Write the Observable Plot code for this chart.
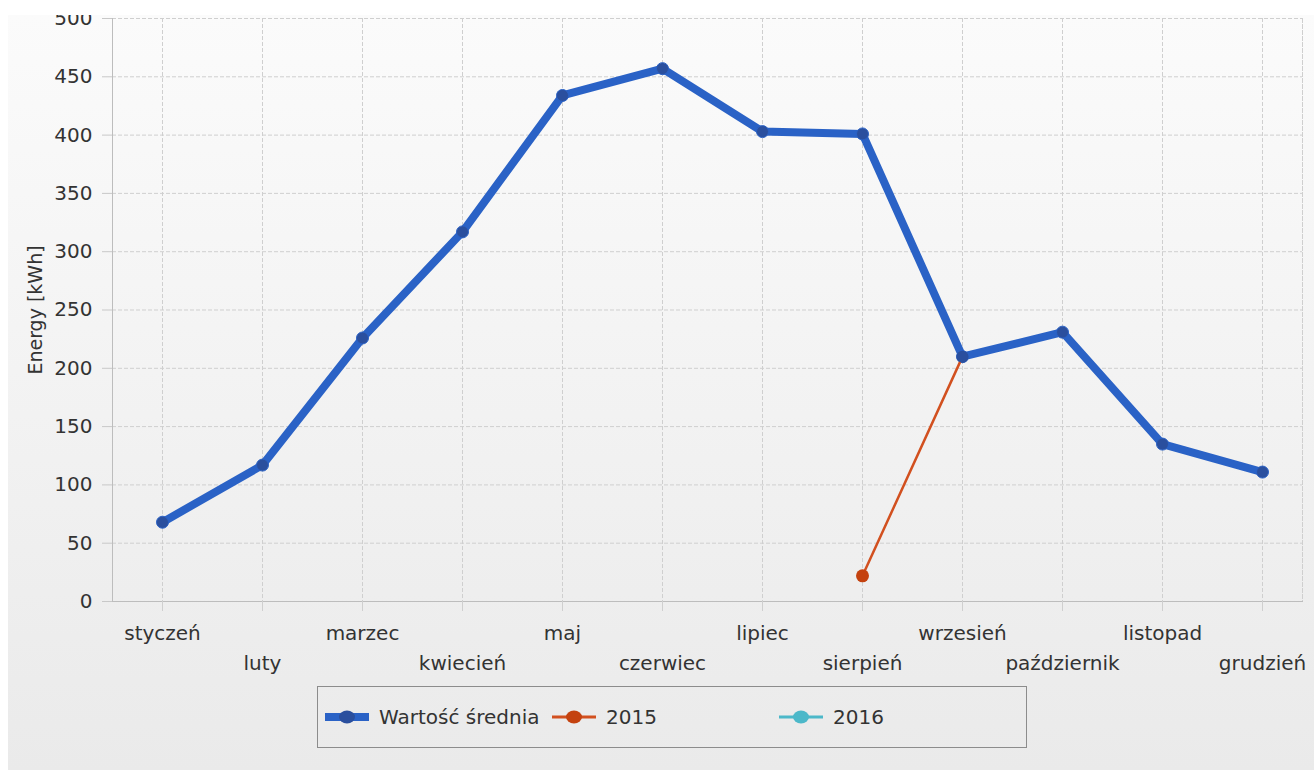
<!DOCTYPE html>
<html><head><meta charset="utf-8">
<script src="https://cdn.jsdelivr.net/npm/d3@7"></script>
<script src="https://cdn.jsdelivr.net/npm/@observablehq/plot@0.6"></script>
<style>
html,body{margin:0;padding:0;background:#fff;overflow:hidden;}
#page{position:relative;width:1314px;height:770px;background:#fff;overflow:hidden;font-family:"DejaVu Sans",sans-serif;}
#inner{position:absolute;left:8px;top:15px;width:1306px;height:755px;overflow:hidden;background:linear-gradient(#fbfbfb,#eaeaea);}
#chart{position:absolute;left:-8px;top:-25px;}
#legend{position:absolute;left:309px;top:671px;width:708px;height:60px;border:1.5px solid #8c8c8c;background:transparent;}
.item{position:absolute;top:0;height:60px;display:flex;align-items:center;font-size:20px;color:#333;}
.item svg{margin-right:9px;}
</style></head>
<body>
<div id="page"><div id="inner"><div id="chart"></div><div id="legend"></div></div></div>
<script>
const months = ["styczeń","luty","marzec","kwiecień","maj","czerwiec","lipiec","sierpień","wrzesień","październik","listopad","grudzień"];
const avgValues = [68,117,226,317,434,457,403,401,210,231,135,111];
const months2015 = ["sierpień","wrzesień"];
const values2015 = [22,210];
const months2016 = [];
const values2016 = [];
const seriesNames = ["Wartość średnia","2015","2016"];
const yTicks = [0,50,100,150,200,250,300,350,400,450,500];
const yLabel = "Energy [kWh]";

const avg = months.map((m,i)=>({month:m, value:avgValues[i]}));
const s2015 = months2015.map((m,i)=>({month:m, value:values2015[i]}));
const s2016 = months2016.map((m,i)=>({month:m, value:values2016[i]}));
const oddMonths = months.filter((m,i)=>i%2===0);
const evenMonths = months.filter((m,i)=>i%2===1);

const blue="#2a62c6", blueDot="#2a4f9e", red="#d2501f", redDot="#c4420f", cyan="#4cb8c9";
const grid="#cfcfcf";

const chart = Plot.plot({
  width:1314, height:681,
  marginLeft:112, marginRight:12, marginTop:28, marginBottom:70,
  style:{fontFamily:"DejaVu Sans, sans-serif", fontSize:"20px", color:"#333", background:"transparent", overflow:"visible"},
  x:{type:"point", domain:months, range:[112,1312], padding:0.5},
  y:{domain:[0,500], range:[611,28]},
  marks:[
    Plot.gridY(yTicks,{stroke:grid, strokeOpacity:1, strokeDasharray:"4,2"}),
    Plot.gridX(months,{stroke:grid, strokeOpacity:1, strokeDasharray:"4,2"}),
    Plot.frame({anchor:"right", stroke:grid, strokeDasharray:"4,2"}),
    Plot.frame({anchor:"left", stroke:"#bdbdbd"}),
    Plot.frame({anchor:"bottom", stroke:"#bdbdbd"}),
    Plot.axisY(yTicks,{tickSize:10, tickPadding:10, stroke:"#c8c8c8", label:null, fill:"#333", fontSize:20}),
    Plot.axisX(months,{tickSize:10, tickFormat:()=>"", stroke:"#cfcfcf", label:null}),
    Plot.text(oddMonths,{x:d=>d, frameAnchor:"bottom", dy:32, lineAnchor:"middle", fill:"#333", fontSize:20}),
    Plot.text(evenMonths,{x:d=>d, frameAnchor:"bottom", dy:62, lineAnchor:"middle", fill:"#333", fontSize:20}),
    Plot.text([yLabel],{frameAnchor:"left", textAnchor:"middle", lineAnchor:"middle", rotate:-90, dx:-77, fill:"#333", fontSize:19}),
    Plot.line(avg,{x:"month", y:"value", stroke:blue, strokeWidth:8, strokeLinejoin:"round", strokeLinecap:"round"}),
    Plot.dot(avg,{x:"month", y:"value", r:6, fill:blueDot, stroke:blue, strokeWidth:1}),
    Plot.line(s2015,{x:"month", y:"value", stroke:red, strokeWidth:2.5}),
    Plot.dot(s2015.slice(0,1),{x:"month", y:"value", r:6.5, fill:redDot}),
    Plot.line(s2016,{x:"month", y:"value", stroke:cyan, strokeWidth:2.5}),
    Plot.dot(avg.slice(8,9),{x:"month", y:"value", r:6, fill:blueDot})
  ]
});
document.getElementById("chart").appendChild(chart);

const legend = document.getElementById("legend");
const legendItems = [
  {name:seriesNames[0], color:blue, dot:blueDot, w:8, left:6},
  {name:seriesNames[1], color:red, dot:redDot, w:3, left:233},
  {name:seriesNames[2], color:cyan, dot:cyan, w:3, left:460}
];
for (const it of legendItems) {
  const d = document.createElement("div");
  d.className="item"; d.style.left=it.left+"px";
  d.innerHTML = `<svg width="46" height="16"><line x1="1" y1="8" x2="45" y2="8" stroke="${it.color}" stroke-width="${it.w}"/><ellipse cx="23" cy="8" rx="8" ry="6.5" fill="${it.dot}"/></svg><span>${it.name}</span>`;
  legend.appendChild(d);
}
</script>
</body></html>
